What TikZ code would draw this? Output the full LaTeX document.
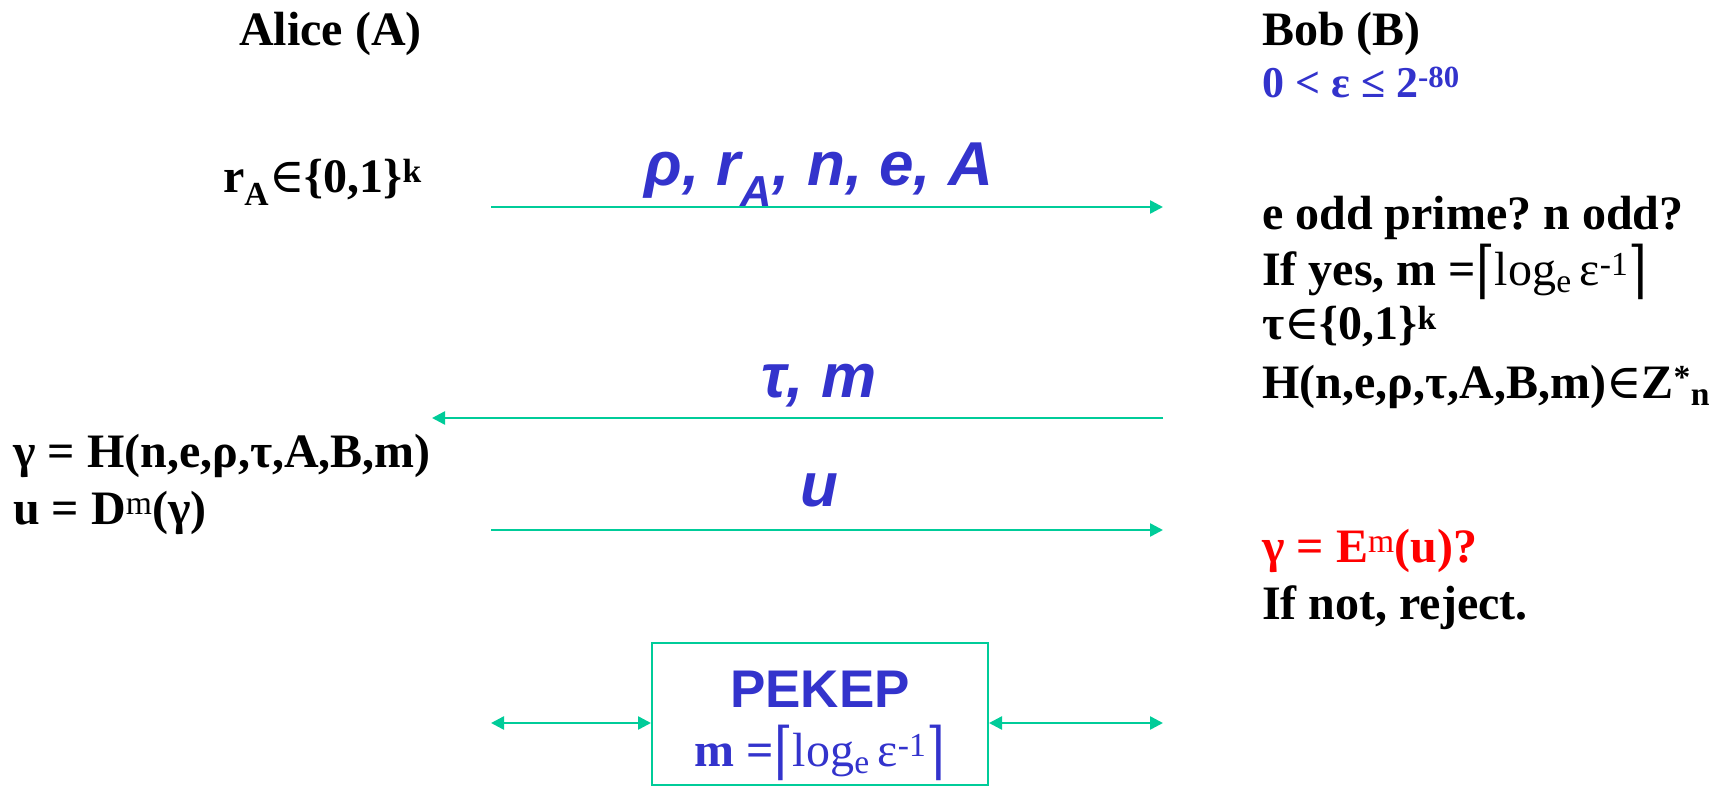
\documentclass[tikz,border=0pt]{standalone}
\usepackage{fontspec}
\setmainfont{Liberation Serif}
\setsansfont{Liberation Sans}
\newfontfamily\symfont{DejaVu Serif}
\usetikzlibrary{arrows.meta,positioning}
\definecolor{msgblue}{HTML}{3333CC}
\definecolor{linkgreen}{HTML}{00CC99}
\definecolor{checkred}{HTML}{FF0000}
\frenchspacing
\newcommand{\elem}{{\mdseries\symfont ∈}}
\newcommand{\ceillog}{{\mdseries\symfont\raisebox{-0.14em}{\scalebox{1}[1.3]{⌈}}}{\mdseries log\textsubscript{e}\,ε\textsuperscript{-1}}{\mdseries\symfont\raisebox{-0.14em}{\scalebox{1}[1.3]{⌉}}}}
\tikzstyle{party}=[inner sep=0pt, font=\fontsize{48}{54}\selectfont\bfseries]
\tikzstyle{msg}=[inner sep=0pt, text=msgblue, font=\fontsize{62}{70}\selectfont\sffamily\bfseries\itshape]
\tikzstyle{flow}=[-{Triangle[length=13pt,width=13pt]}, draw=linkgreen, line width=2.5pt]
\tikzstyle{twoway}=[{Triangle[length=13pt,width=13pt]}-{Triangle[length=13pt,width=13pt]}, draw=linkgreen, line width=2.5pt]
\begin{document}
\begin{tikzpicture}[x=1pt,y=-1pt]
\useasboundingbox (0,0) rectangle (1723,787);
% the two parties
\node[party, anchor=base east] (alice) at (422,45) {Alice (A)};
\node[party, anchor=base west] (bob) at (1262,45) {Bob (B)};
\node[party, text=msgblue, anchor=base west, font=\fontsize{44}{50}\selectfont\bfseries] (eps) at (1262,97) {0 < ε ≤ 2\textsuperscript{-80}};
% Alice, first step
\node[party, anchor=base east] (ra) at (422,192) {r\textsubscript{A}\elem\{0,1\}\textsuperscript{k}};
% Bob's checks
\node[party, anchor=base west] (chk) at (1262,229) {e odd prime? n odd?};
\node[party, anchor=base west] (mval) at (1262,285) {If yes, m =\ceillog};
\node[party, anchor=base west] (tau) at (1262,339) {τ\elem\{0,1\}\textsuperscript{k}};
\node[party, anchor=base west] (hash) at (1262,398) {H(n,e,ρ,τ,A,B,m)\elem Z\textsuperscript{*}\textsubscript{n}};
% Alice answers
\node[party, anchor=base west] (gam) at (13,467) {γ = H(n,e,ρ,τ,A,B,m)};
\node[party, anchor=base west] (resp) at (13,524) {u = D\textsuperscript{\mdseries m}(γ)};
% Bob verifies
\node[party, text=checkred, anchor=base west] (ver) at (1262,562) {γ = E\textsuperscript{\mdseries m}(u)?};
\node[party, anchor=base west] (rej) at (1262,619) {If not, reject.};
% messages
\coordinate (a1) at (491,207);
\coordinate (b1) at (1163,207);
\draw[flow] (a1) -- (b1);
\node[msg, anchor=base] (m1) at (819,185) {ρ, r\textsubscript{A}, n, e, A};
\coordinate (a2) at (432,418);
\coordinate (b2) at (1163,418);
\draw[flow] (b2) -- (a2);
\node[msg, anchor=base] (m2) at (819,397) {τ, m};
\coordinate (a3) at (491,530);
\coordinate (b3) at (1163,530);
\draw[flow] (a3) -- (b3);
\node[msg, anchor=base] (m3) at (819,506) {u};
% the PEKEP box
\node[draw=linkgreen, line width=2pt, minimum width=336pt, minimum height=142pt, inner sep=0pt] (pekep) at (820,714) {};
\node[msg, anchor=base, font=\fontsize{53}{60}\selectfont\sffamily\bfseries] (pk) at (820,707) {PEKEP};
\node[party, text=msgblue, anchor=base] (pm) at (820,766) {m =\ceillog};
\coordinate (a4) at (491,723);
\coordinate (b4) at (1163,723);
\draw[twoway] (a4) -- (a4 -| pekep.west);
\draw[twoway] (b4 -| pekep.east) -- (b4);
\end{tikzpicture}
\end{document}
